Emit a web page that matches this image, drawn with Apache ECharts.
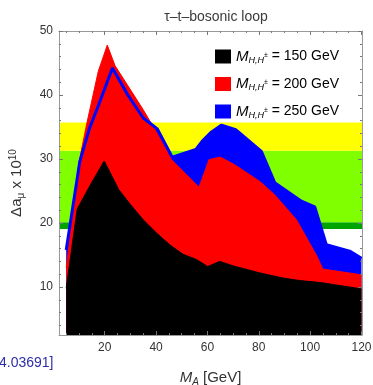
<!DOCTYPE html>
<html>
<head>
<meta charset="utf-8">
<script src="https://cdn.jsdelivr.net/npm/echarts@6/dist/echarts.min.js"></script>
<style>
  html, body { margin: 0; padding: 0; background: #fff; }
  #chart { width: 373px; height: 385px; }
</style>
</head>
<body>
<div id="chart"></div>
<script>
// tau-t-bosonic loop, Delta a_mu (x 10^10) against M_A for three heavy masses
const mA150 = [5, 9.3, 14.2, 19.8, 25.5, 30, 35, 40, 45.3, 50.5, 55.7, 60.1, 64.8, 70, 80.4, 89.4, 96, 104, 112, 120];
const da150 = [9.8, 22.2, 25.8, 29.7, 25.2, 22.9, 20.5, 18.5, 16.6, 15.1, 14.3, 13.2, 14.0, 13.3, 12.2, 11.4, 11.0, 10.7, 10.2, 9.7];

const mA200 = [5, 10, 13, 17.5, 21, 24, 35, 40, 46, 56.7, 59, 60.6, 65, 70.6, 80.4, 86.2, 94.7, 102.4, 105, 120];
const da200 = [13, 29.5, 35.5, 43.7, 47.8, 44.6, 37.7, 34.3, 29.9, 25.6, 28.1, 29.9, 30.3, 29.1, 26.5, 24.4, 20.5, 15, 12.8, 11.9];

const mA250 = [5, 10.3, 13.9, 17.4, 23, 29, 35, 40.5, 46.3, 55.5, 58, 61.5, 65.5, 71, 81, 86.2, 96.6, 101.8, 106.3, 115.4, 120];
const da250 = [15.8, 29.6, 34.6, 38.2, 44.2, 40, 36.4, 34.7, 30.3, 31.5, 32.8, 34.2, 35.3, 34.6, 31.2, 26.3, 23.4, 22.5, 16.6, 15.6, 14.5];

// experimental bands (lower, upper)
const bandLow = [19.05, 20.1, 31.3];
const bandHigh = [20.1, 31.3, 35.7];
const bandColors = ['#00a400', '#80ff00', '#ffff00'];

const xMajor = [20, 40, 60, 80, 100, 120];
const xMinor = [5, 10, 15, 25, 30, 35, 45, 50, 55, 65, 70, 75, 85, 90, 95, 105, 110, 115];
const yMajor = [10, 20, 30, 40, 50];
const yMinor = [4, 6, 8, 12, 14, 16, 18, 22, 24, 26, 28, 32, 34, 36, 38, 42, 44, 46, 48];

const masses = [150, 200, 250];
const colors = ['#000000', '#ff0000', '#0000ff'];

const FONT = '"Liberation Sans", Arial, sans-serif';
const FRAME = '#999';

const pairs = (xs, ys) => xs.map((x, i) => [x, ys[i]]);

function axis(kind, position, ticks, len, withLabels, withLine) {
  const range = kind === 'x' ? { min: 2.2, max: 120.2 } : { min: 2.5, max: 50 };
  return {
    type: 'value',
    position,
    ...range,
    z: 10,
    axisLine: { show: withLine, lineStyle: { color: FRAME, width: 1 } },
    axisTick: {
      show: true,
      inside: true,
      length: len,
      customValues: ticks,
      lineStyle: { color: '#777', width: 1 },
    },
    axisLabel: {
      show: withLabels,
      customValues: ticks,
      fontFamily: FONT,
      fontSize: 12,
      color: '#333',
      margin: kind === 'x' ? 7 : 6,
    },
    splitLine: { show: false },
  };
}

const xAxes = [
  axis('x', 'bottom', xMajor, 4, true, true),
  axis('x', 'bottom', xMinor, 2, false, false),
  axis('x', 'top', xMajor, 4, false, true),
  axis('x', 'top', xMinor, 2, false, false),
];
Object.assign(xAxes[0], {
  name: '{i|M}{s|A} [GeV]',
  nameLocation: 'middle',
  nameGap: 34,
  nameTextStyle: {
    fontFamily: FONT, fontSize: 15, color: '#333',
    rich: {
      i: { fontStyle: 'italic', fontSize: 15, fontFamily: FONT, color: '#333' },
      s: { fontStyle: 'italic', fontSize: 10, fontFamily: FONT, color: '#333', padding: [8, 0, 0, 0] },
    },
  },
});

const yAxes = [
  axis('y', 'left', yMajor, 4, true, true),
  axis('y', 'left', yMinor, 2, false, false),
  axis('y', 'right', yMajor, 4, false, true),
  axis('y', 'right', yMinor, 2, false, false),
];
Object.assign(yAxes[0], {
  name: 'Δa{s|μ} x 10{p|10}',
  nameLocation: 'middle',
  nameGap: 33,
  nameRotate: 90,
  nameTextStyle: {
    fontFamily: FONT, fontSize: 15, color: '#333',
    rich: {
      s: { fontSize: 10, fontFamily: FONT, color: '#333', padding: [8, 0, 0, 0] },
      p: { fontSize: 10, fontFamily: FONT, color: '#333', padding: [0, 0, 8, 0] },
    },
  },
});

const names = masses.map(m => 'M' + m);

const areaSeries = [2, 1, 0].map((k, order) => ({
  name: names[k],
  type: 'line',
  data: pairs([mA150, mA200, mA250][k], [da150, da200, da250][k]),
  showSymbol: false,
  symbol: 'none',
  z: 3 + order * 2,
  itemStyle: { color: colors[k] },
  lineStyle: { color: colors[k], width: 1 },
  areaStyle: { color: colors[k], opacity: 1, origin: 'start' },
  animation: false,
}));

const option = {
  animation: false,
  title: [
    {
      text: 'τ–t–bosonic loop',
      left: 211,
      top: 5,
      textAlign: 'center',
      textStyle: { fontFamily: FONT, fontSize: 14, fontWeight: 'normal', color: '#3a3a3a' },
    },
    {
      text: '4.03691]',
      left: -6,
      top: 351,
      textStyle: { fontFamily: FONT, fontSize: 14, fontWeight: 'normal', color: '#2d2da8' },
    },
  ],
  grid: { left: 59, right: 11, top: 31, bottom: 50, containLabel: false, outerBoundsMode: 'none' },
  xAxis: xAxes,
  yAxis: yAxes,
  legend: {
    data: names,
    orient: 'vertical',
    left: 210,
    top: 44,
    itemWidth: 16,
    itemHeight: 14,
    itemGap: 12,
    icon: 'rect',
    selectedMode: false,
    formatter: name => '{m|M}{s|H,H}{p|±}{n| = ' + name.slice(1) + ' GeV}',
    textStyle: {
      fontFamily: FONT,
      fontSize: 14,
      color: '#000',
      rich: {
        m: { fontStyle: 'italic', fontSize: 15, fontFamily: FONT, color: '#000' },
        s: { fontStyle: 'italic', fontSize: 9, fontFamily: FONT, color: '#000', padding: [7, 0, 0, 0] },
        p: { fontSize: 7, fontFamily: FONT, color: '#000', padding: [0, 0, 3, 0] },
        n: { fontSize: 14, fontFamily: FONT, color: '#000' },
      },
    },
  },
  series: [
    {
      name: 'bands',
      type: 'line',
      data: [],
      z: 1,
      markArea: {
        silent: true,
        data: bandLow.map((lo, i) => [
          { yAxis: lo, itemStyle: { color: bandColors[i], opacity: 1 } },
          { yAxis: bandHigh[i] },
        ]),
      },
    },
    areaSeries[0],
    areaSeries[1],
    {
      name: 'M250 line',
      type: 'line',
      data: pairs(mA250, da250),
      showSymbol: false,
      symbol: 'none',
      z: 6,
      lineStyle: { color: colors[2], width: 3 },
    },
    areaSeries[2],
  ],
};

const chart = echarts.init(document.getElementById('chart'), null, { renderer: 'canvas' });
chart.setOption(option);
</script>
</body>
</html>
